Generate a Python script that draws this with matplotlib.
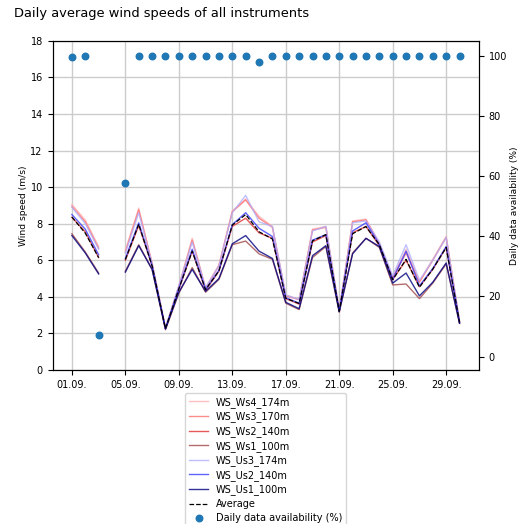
import matplotlib
matplotlib.use('Agg')
import matplotlib.pyplot as plt
import matplotlib.dates as mdates
import numpy as np
import pandas as pd

nan = np.nan

# Daily mean wind speeds (m/s), 01.09. - 30.09.
days = pd.date_range('2020-09-01', '2020-09-30', freq='D')

ws4_174 = [9.05, 8.20, 6.75, nan, 6.55, 8.85, 5.85, 2.30, 4.60, 7.20, 4.50, 5.75, 8.70, 9.35, 8.40,
           7.85, 4.10, 3.85, 7.70, 7.85, 3.25, 8.15, 8.25, 6.95, 5.05, 6.60, 4.85, 6.05, 7.30, 2.65]
ws3_170 = [8.95, 8.10, 6.65, nan, 6.45, 8.75, 5.80, 2.30, 4.55, 7.10, 4.45, 5.70, 8.65, 9.30, 8.30,
           7.80, 4.05, 3.85, 7.65, 7.80, 3.25, 8.10, 8.20, 6.90, 5.05, 6.40, 4.80, 6.00, 7.25, 2.65]
ws2_140 = [8.35, 7.55, 6.15, nan, 6.00, 7.90, 5.70, 2.25, 4.40, 6.50, 4.35, 5.40, 7.85, 8.30, 7.50,
           7.20, 3.90, 3.60, 7.00, 7.35, 3.20, 7.50, 7.85, 6.80, 4.95, 6.00, 4.55, 5.50, 6.70, 2.60]
ws1_100 = [7.45, 6.45, 5.30, nan, 5.40, 6.85, 5.50, 2.20, 4.20, 5.60, 4.25, 4.95, 6.85, 7.05, 6.35,
           6.05, 3.65, 3.30, 6.15, 6.75, 3.15, 6.40, 7.20, 6.70, 4.65, 4.70, 3.90, 4.75, 5.80, 2.55]
us3_174 = [8.90, 8.00, 6.60, nan, 6.40, 8.60, 5.80, 2.30, 4.60, 7.00, 4.50, 5.70, 8.60, 9.55, 8.10,
           7.85, 4.10, 3.85, 7.60, 7.85, 3.25, 8.05, 8.15, 7.00, 5.15, 6.85, 4.90, 6.00, 7.25, 2.65]
us2_140 = [8.50, 7.70, 6.30, nan, 6.10, 8.05, 5.70, 2.25, 4.45, 6.60, 4.40, 5.45, 7.95, 8.60, 7.75,
           7.30, 3.95, 3.65, 7.10, 7.40, 3.20, 7.60, 8.05, 6.85, 4.95, 6.50, 4.60, 5.55, 6.75, 2.60]
us1_100 = [7.35, 6.40, 5.25, nan, 5.35, 6.80, 5.50, 2.25, 4.25, 5.50, 4.30, 5.00, 6.90, 7.35, 6.50,
           6.10, 3.70, 3.35, 6.25, 6.80, 3.20, 6.35, 7.20, 6.75, 4.75, 5.30, 4.05, 4.80, 5.85, 2.55]

availability = [99.5, 100, 7.1, nan, 57.8, 100, 100, 100, 100, 100, 100, 100, 100, 100, 98.0,
                100, 100, 100, 100, 100, 100, 100, 100, 100, 100, 100, 100, 100, 100, 100]

series = [('WS_Ws4_174m', ws4_174, '#ffb0b0'),
          ('WS_Ws3_170m', ws3_170, '#ff7070'),
          ('WS_Ws2_140m', ws2_140, '#e03030'),
          ('WS_Ws1_100m', ws1_100, '#a04848'),
          ('WS_Us3_174m', us3_174, '#b0b0ff'),
          ('WS_Us2_140m', us2_140, '#3a3aff'),
          ('WS_Us1_100m', us1_100, '#000080')]

plt.rcParams['font.size'] = 7

fig, ax = plt.subplots(figsize=(5.2, 5.24), dpi=100)
fig.subplots_adjust(left=0.101, right=0.921, top=0.922, bottom=0.294)

handles = []
for name, vals, col in series:
    h, = ax.plot(days, vals, color=col, lw=1.0, alpha=0.8, label=name)
    handles.append(h)

avg = np.nanmean(np.array([s[1] for s in series], dtype=float), axis=0)
h, = ax.plot(days, avg, color='black', ls='--', lw=0.9, label='Average')
handles.append(h)

ax.set_ylim(0, 18)
ax.set_yticks(range(0, 19, 2))
ax.set_ylabel('Wind speed (m/s)', fontsize=6.6, labelpad=1.5)
ax.grid(True, color='#cccccc', lw=1.0)
ax.set_xticks(days[::4])
ax.xaxis.set_major_formatter(mdates.DateFormatter('%d.%m.'))

ax2 = ax.twinx()
sc = ax2.scatter(days, availability, s=22, color='#1f77b4', label='Daily data availability (%)')
handles.append(sc)
ax2.set_ylim(-4.4, 104.9)
ax2.set_yticks(range(0, 101, 20))
ax2.set_ylabel('Daily data availability (%)', fontsize=6.6, labelpad=2)

ax.legend(handles=handles, loc='upper center', bbox_to_anchor=(0.5, -0.055),
          fontsize=7, labelspacing=0.38)

fig.text(14/520, 1 - 13/524, 'Daily average wind speeds of all instruments', fontsize=9.4, va='center')

fig.savefig('out.png', dpi=100)
